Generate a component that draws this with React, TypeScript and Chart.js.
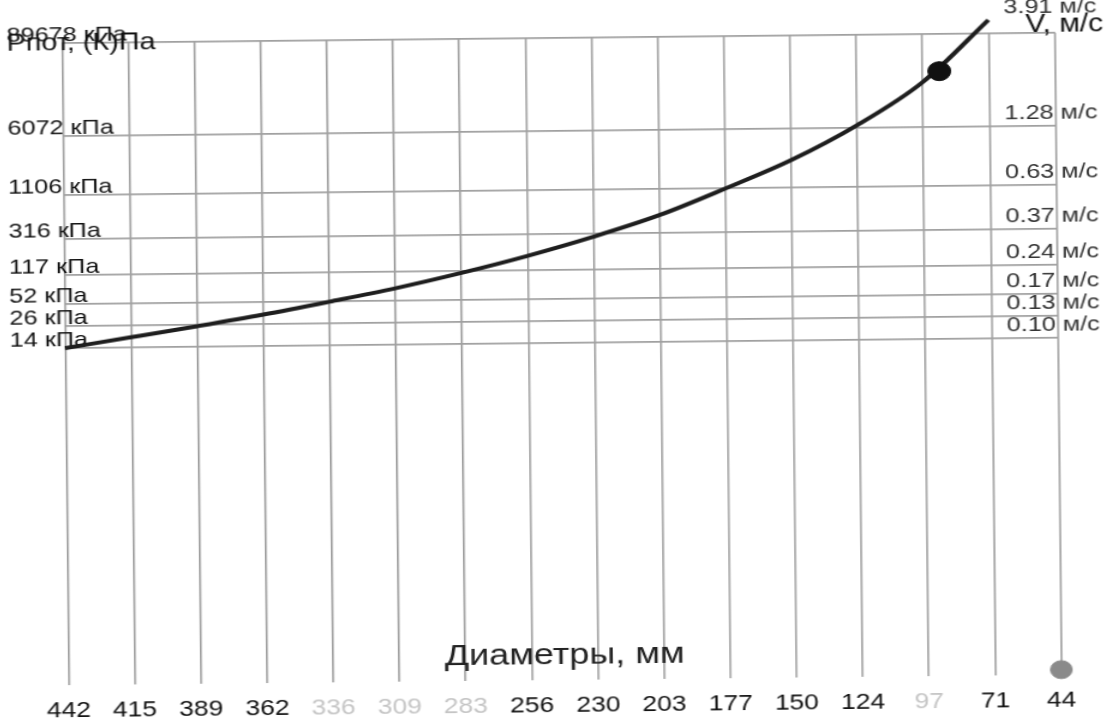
import React, { useEffect, useRef } from 'react';
import { Chart, registerables } from 'chart.js';

Chart.register(...registerables);

// ---- data ----
const diameterLabels = ['442', '415', '389', '362', '336', '309', '283', '256', '230', '203', '177', '150', '124', '97', '71', '44'];
const fadedLabelIndices = [4, 5, 6, 13];
const curveVelocities = [0.10, 0.113, 0.128, 0.146, 0.169, 0.197, 0.235, 0.286, 0.357, 0.459, 0.627, 0.875, 1.32, 2.2, 4.6];
const velocityTicks = [0.10, 0.13, 0.17, 0.24, 0.37, 0.63, 1.28, 3.91];
const velocityTickLabels = ['0.10 м/с', '0.13 м/с', '0.17 м/с', '0.24 м/с', '0.37 м/с', '0.63 м/с', '1.28 м/с', '3.91 м/с'];
const pressureTickLabels = ['14 кПа', '26 кПа', '52 кПа', '117 кПа', '316 кПа', '1106 кПа', '6072 кПа', '89678 кПа'];
const currentPointIndex = [13.25];
const currentPointVelocity = [2.5];
const cornerPointIndex = [15];
const cornerPointVelocity = [0.00185];
const velocityMin = 0.00174;
const velocityMax = 3.91;

const STRETCH = 1.2;
const W = Math.round(1115 / STRETCH);
const H = 725;
const FAMILY = '"Liberation Sans", Arial, sans-serif';

export default function App() {
  const ref = useRef<HTMLCanvasElement | null>(null);

  useEffect(() => {
    const canvas = ref.current;
    if (!canvas) return;
    const lastCurve = curveVelocities.length - 1;
    const lastTick = velocityTicks.length - 1;
    const chart = new Chart(canvas, {
      type: 'line',
      data: {
        datasets: [
          {
            type: 'scatter',
            data: currentPointIndex.map((x, i) => ({ x, y: currentPointVelocity[i] })),
            pointRadius: 9.5,
            backgroundColor: '#111',
            borderColor: '#111',
            yAxisID: 'y',
            clip: false,
          } as any,
          {
            type: 'scatter',
            data: cornerPointIndex.map((x, i) => ({ x, y: cornerPointVelocity[i] })),
            pointRadius: 9,
            backgroundColor: '#8a8a8a',
            borderColor: '#8a8a8a',
            yAxisID: 'y',
            clip: false,
          } as any,
          {
            type: 'line',
            data: curveVelocities.map((v, i) => ({ x: i, y: v })),
            borderColor: '#1e1e1e',
            borderWidth: 4,
            pointRadius: (ctx: any) => (ctx.dataIndex === lastCurve ? 4 : 0),
            pointBackgroundColor: '#fff',
            pointBorderColor: '#333',
            pointBorderWidth: 1.5,
            cubicInterpolationMode: 'monotone',
            yAxisID: 'y',
            clip: false,
          } as any,
        ],
      },
      options: {
        responsive: false,
        animation: false,
        devicePixelRatio: 1,
        layout: { padding: { left: 8.3, right: 0, top: 0, bottom: 0 } },
        plugins: {
          legend: { display: false },
          tooltip: { enabled: false },
          title: {
            display: true,
            text: 'V, м/с ',
            align: 'end',
            color: '#111',
            font: { family: FAMILY, size: 25, weight: 'normal' },
            padding: { top: 15, bottom: -7 },
          },
          subtitle: {
            display: true,
            text: 'Рпот, (К)Па',
            align: 'start',
            color: '#111',
            font: { family: FAMILY, size: 24, weight: 'normal' },
            padding: { top: -14.4, bottom: -14.4 },
          },
        },
        scales: {
          x: {
            type: 'linear',
            bounds: 'data',
            min: 0,
            max: 15,
            afterBuildTicks: (s: any) => {
              s.ticks = diameterLabels.map((_, i) => ({ value: i }));
            },
            afterFit: (s: any) => {
              s.height = 45;
              s.paddingLeft = 0;
              s.paddingRight = 0;
            },
            ticks: {
              autoSkip: false,
              maxRotation: 0,
              padding: 13,
              callback: (_v: any, i: number) => diameterLabels[i],
              color: (ctx: any) => (fadedLabelIndices.includes(ctx.index) ? '#c4c4c4' : '#111'),
              font: { family: FAMILY, size: 22 },
            },
            grid: { color: '#a0a0a0', lineWidth: 1.6, drawTicks: false },
            border: { display: false },
            title: {
              display: true,
              text: 'Диаметры, мм',
              color: '#222',
              font: { family: FAMILY, size: 30 },
              padding: { top: 0, bottom: 51 },
            },
          },
          y: {
            type: 'logarithmic',
            position: 'right',
            bounds: 'data',
            min: velocityMin,
            max: velocityMax,
            afterBuildTicks: (s: any) => {
              s.ticks = velocityTicks.map((v) => ({ value: v }));
            },
            afterFit: (s: any) => {
              s.width = 47.4;
              s.paddingTop = 0;
              s.paddingBottom = 0;
            },
            ticks: {
              autoSkip: false,
              mirror: true,
              crossAlign: 'near',
              major: { enabled: false },
              padding: 35,
              labelOffset: -13,
              callback: (_v: any, i: number) => (i === lastTick ? [velocityTickLabels[i], ''] : velocityTickLabels[i]),
              color: '#333',
              font: { family: FAMILY, size: 21 },
            },
            grid: { color: '#a0a0a0', lineWidth: 1.8, drawTicks: false },
            border: { display: false },
          },
          yP: {
            type: 'logarithmic',
            position: 'left',
            bounds: 'data',
            min: velocityMin,
            max: velocityMax,
            afterBuildTicks: (s: any) => {
              s.ticks = velocityTicks.map((v) => ({ value: v }));
            },
            afterFit: (s: any) => {
              s.width = 46;
              s.paddingTop = 0;
              s.paddingBottom = 0;
            },
            ticks: {
              autoSkip: false,
              mirror: true,
              crossAlign: 'near',
              major: { enabled: false },
              padding: -46,
              labelOffset: -8,
              callback: (_v: any, i: number) => pressureTickLabels[i],
              color: '#111',
              font: { family: FAMILY, size: 21 },
            },
            grid: { display: false, drawTicks: false },
            border: { display: false },
          },
        },
      } as any,
    });
    return () => chart.destroy();
  }, []);

  return (
    <div style={{ position: 'absolute', left: 0, top: 0, width: 1115, height: 725, background: '#fff', overflow: 'hidden' }}>
      <canvas
        ref={ref}
        width={W}
        height={H}
        style={{ width: '1115px', height: '725px', display: 'block', transform: 'rotate(-0.6deg)' }}
      />
    </div>
  );
}
